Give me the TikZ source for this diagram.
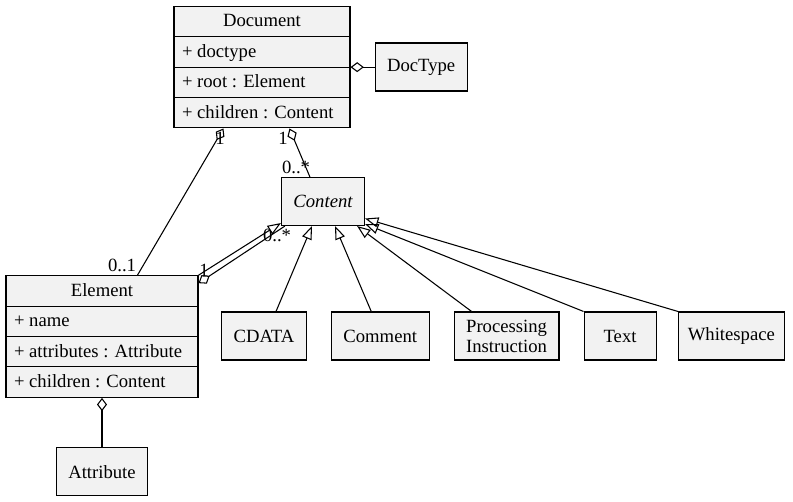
\documentclass[tikz,border=0pt]{standalone}
\usepackage{fontspec}
\setmainfont{Liberation Serif}
\usepackage{tikz}
\usetikzlibrary{shapes.multipart, arrows.meta, positioning, calc}

\definecolor{clsfill}{RGB}{242,242,242}
\newcommand{\rowstrut}{\rule[-2.8pt]{0pt}{14pt}}

\begin{document}
\begin{tikzpicture}[
    x=0.75pt, y=-0.75pt,
    node distance=37pt and 18pt,
    cls/.style={rectangle, draw, fill=clsfill, line width=0.8pt, align=center, minimum width=54pt, minimum height=36pt, inner xsep=9pt, font=\fontsize{14}{15}\selectfont},
    umlclass/.style={rectangle split, rectangle split parts=4, rectangle split part align={center,left,left,left}, draw, fill=clsfill, line width=0.8pt, inner xsep=6pt, inner ysep=4pt, font=\fontsize{14}{15}\selectfont},
    mult/.style={inner sep=0pt, font=\fontsize{14}{15}\selectfont},
    gen/.style={-{Triangle[open, length=10pt, width=7.5pt]}, line width=0.8pt, fill=white},
    aggr/.style={{Diamond[open, length=10pt, width=7.5pt]}-, line width=0.8pt, fill=white},
]
\useasboundingbox (0,0) rectangle (793,501);

% Classes with attributes
\node[umlclass, minimum width=132pt] (document) at (262,67) {\rowstrut Document
    \nodepart{two}\rowstrut + doctype
    \nodepart{three}\rowstrut + root : Element
    \nodepart{four}\rowstrut + children : Content};
\node[cls, right=of document] (doctype) {DocType};
\node[umlclass, minimum width=144pt] (element) at (102,336.5) {\rowstrut Element
    \nodepart{two}\rowstrut + name
    \nodepart{three}\rowstrut + attributes : Attribute
    \nodepart{four}\rowstrut + children : Content};
\node[cls, below=of element] (attribute) {Attribute};

% Content and its subclasses
\node[cls, font=\fontsize{14}{15}\selectfont\itshape] (content) at (323,201.5) {Content};
\node[cls] (cdata) at (264,336) {CDATA};
\node[cls, right=of cdata] (comment) {Comment};
\node[cls, right=of comment] (procinstr) {Processing\\Instruction};
\node[cls, right=of procinstr] (txt) {Text};
\node[cls, right=16pt of txt, inner xsep=7pt] (whitespace) {Whitespace};

% Associations
\draw[aggr] (document.two split east) -- (doctype.west |- document.two split east);
\draw[aggr] ($(document.south west)+(50,0)$) -- ($(element.north west)+(132,0)$);
\draw[aggr] ($(document.south west)+(116,0)$) -- ($(content.north west)+(29,0)$);
\draw[aggr] ($(element.north east)+(0,8)$) -- ($(content.south west)+(4,0)$);
\draw[aggr] (element) -- (attribute);

% Generalizations
\draw[gen] (element.north east) -- ($(content.south west)+(0,-3)$);
\draw[gen] ($(cdata.north)+(12,0)$) -- ($(content.south)+(-11,0)$);
\draw[gen] ($(comment.north)+(-9,0)$) -- ($(content.south)+(12,0)$);
\draw[gen] ($(procinstr.north west)+(18,0)$) -- ($(content.south east)+(-8,0)$);
\draw[gen] (txt.north west) -- ($(content.south east)+(0,-2)$);
\draw[gen] (whitespace.north west) -- ($(content.east)+(0,17)$);

% Multiplicities
\node[mult] (m-doc-elem) at (220,138) {1};
\node[mult] (m-elem-doc) at (122,265) {0..1};
\node[mult] (m-doc-cont) at (283,138) {1};
\node[mult] (m-cont-doc) at (296,167) {0..*};
\node[mult] (m-elem-cont) at (204,270) {1};
\node[mult] (m-cont-elem) at (277,235) {0..*};

\end{tikzpicture}
\end{document}
